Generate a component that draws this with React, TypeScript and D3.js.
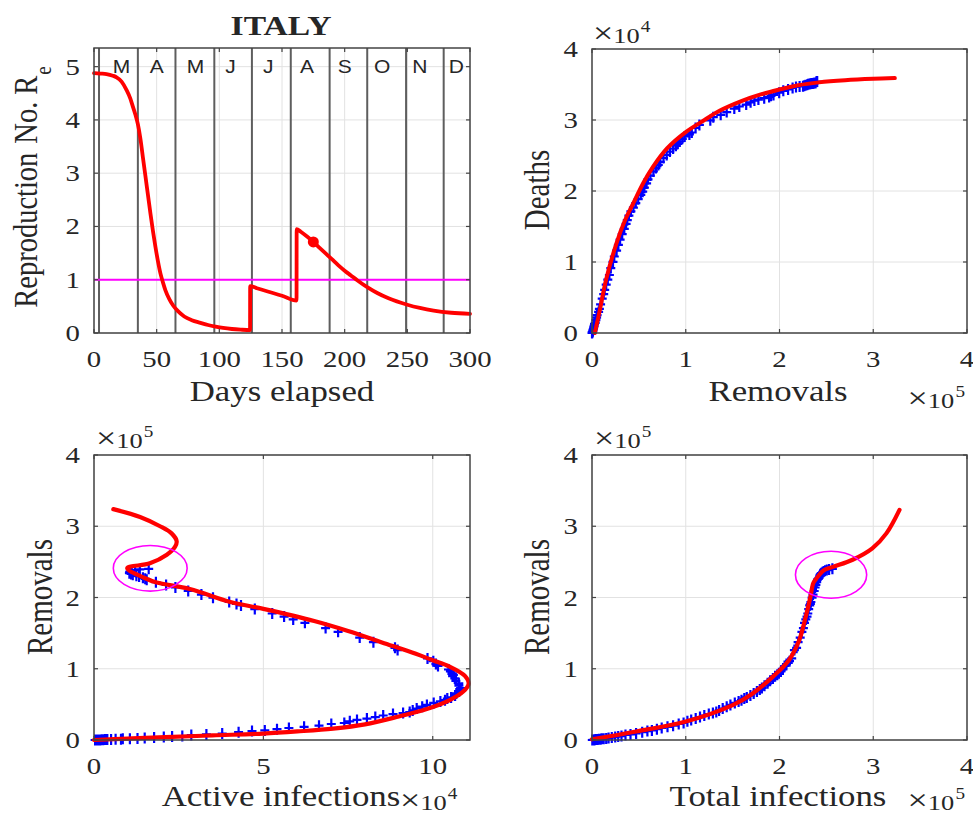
import React from 'react';
import * as d3 from 'd3';

const W = 973;
const H = 816;
const SERIF = '"Liberation Serif", "Times New Roman", serif';
const SANS = '"Liberation Sans", Arial, sans-serif';
const INK = '#262626';
const SX = 1.2; // the source picture is stretched horizontally

// observed data (thousands): day, total cases, removals (recovered + dead), deaths
const obsDay = [0, 1, 2, 3, 4, 5, 6, 7, 8, 9, 10, 11, 12, 13, 14, 15, 16, 17, 18, 19, 20, 21, 22, 23, 24, 25,
  26, 27, 28, 29, 30, 31, 32, 33, 34, 35, 36, 37, 38, 39, 40, 41, 42, 43, 44, 45, 46, 47, 48, 49, 50, 51, 52,
  53, 54, 55, 56, 57, 58, 59, 60, 61, 62, 63, 64, 65,
  66, 68, 70, 72, 74, 76, 78, 80, 82, 84, 86, 88, 90, 92, 94, 96, 98,
  102, 106, 110, 114, 118, 122, 126, 130, 134, 138, 142, 146, 150, 154, 158, 162, 166, 170, 174, 178];
const obsTotal = [0.32, 0.4, 0.66, 0.89, 1.13, 1.69, 2.04, 2.5, 3.09, 3.86, 4.64, 5.88, 7.38, 9.17, 10.15,
  12.46, 15.11, 17.66, 21.16, 24.75, 27.98, 31.51, 35.71, 41.04, 47.02, 53.58, 59.14, 63.93, 69.18, 74.39,
  80.54, 86.5, 92.47, 97.69, 101.74, 105.79, 110.57, 115.24, 119.83, 124.63, 128.95, 132.55, 135.59, 139.42,
  143.63, 147.58, 152.27, 156.36, 159.52, 162.49, 165.16, 168.94, 172.43, 175.93, 178.97, 181.23, 183.96,
  187.33, 189.97, 192.99, 195.35, 197.68, 199.41, 201.51, 203.59, 205.46,
  207.43, 210.72, 213.01, 215.86, 218.27, 219.81, 222.1, 223.89, 225.44, 226.7, 228.01, 229.33, 230.16,
  231.14, 232.25, 233.0, 233.52,
  234.8, 235.76, 236.99, 238.01, 238.83, 239.71, 240.58, 241.42, 242.15, 242.83, 243.0, 243.3, 243.9, 244.6,
  245.9, 247.1, 248.6, 250.5, 252.9, 256.4];
const obsRemoved = [0.01, 0.015, 0.06, 0.067, 0.08, 0.117, 0.2, 0.239, 0.38, 0.562, 0.72, 0.822, 0.99, 1.187,
  1.64, 1.872, 2.27, 2.705, 3.41, 4.144, 4.91, 5.444, 7.0, 7.845, 9.16, 10.897, 12.5, 13.509, 15.15, 16.865,
  18.53, 20.084, 22.41, 23.809, 26.21, 28.157, 30.0, 32.193, 34.44, 36.358, 37.7, 39.36, 41.52, 44.16, 46.75,
  49.304, 52.0, 54.11, 55.9, 58.197, 59.74, 62.334, 65.47, 68.154, 70.72, 72.991, 76.25, 79.628, 83.13,
  86.467, 89.5, 91.572, 93.6, 96.3, 98.93, 103.912,
  106.49, 110.54, 114.55, 126.23, 129.42, 137.33, 143.65, 151.82, 157.08, 164.45, 169.21, 173.21, 177.54,
  183.68, 188.86, 190.92, 193.62,
  199.68, 204.05, 209.17, 213.97, 217.55, 221.44, 225.02, 226.3, 227.71, 229.53, 230.47, 231.86, 232.94,
  234.15, 235.38, 236.5, 237.45, 238.42, 239.37, 240.26];
const obsDeaths = [0.011, 0.012, 0.017, 0.021, 0.029, 0.034, 0.052, 0.079, 0.107, 0.148, 0.197, 0.233, 0.366,
  0.463, 0.631, 0.827, 1.016, 1.266, 1.441, 1.809, 2.158, 2.503, 2.978, 3.405, 4.032, 4.825, 5.476, 6.077,
  6.82, 7.503, 8.165, 9.134, 10.023, 10.779, 11.591, 12.428, 13.155, 13.915, 14.681, 15.362, 15.887, 16.523,
  17.127, 17.669, 18.279, 18.849, 19.468, 19.899, 20.465, 21.067, 21.645, 22.17, 22.745, 23.227, 23.66,
  24.114, 24.648, 25.085, 25.549, 25.969, 26.384, 26.644, 26.977, 27.359, 27.682, 27.967,
  28.236, 28.884, 29.315, 29.958, 30.395, 30.739, 31.106, 31.61, 31.908, 32.169, 32.486, 32.735, 32.877,
  33.072, 33.229, 33.415, 33.53,
  33.846, 34.114, 34.301, 34.514, 34.657, 34.716, 34.767, 34.833, 34.899, 34.954, 35.028, 35.058, 35.097,
  35.123, 35.146, 35.181, 35.203, 35.231, 35.4, 35.418];

// model: effective reproduction number vs day
const reDay = [0, 5, 10, 15, 18, 22, 26, 29, 31, 33, 35, 37, 39, 41, 43, 45, 47, 49, 51, 53, 55, 57, 60, 63, 67,
  72, 78, 85, 91, 97, 103, 110, 117, 124.5, 124.6, 130, 140, 150, 161.6, 161.7, 165, 170, 175, 180, 185, 190,
  195, 200, 205, 210, 218, 226, 235, 250, 260, 271, 285, 300];
const reValue = [4.88, 4.87, 4.86, 4.83, 4.8, 4.72, 4.56, 4.4, 4.25, 4.1, 3.92, 3.65, 3.3, 2.95, 2.6, 2.25, 1.92,
  1.62, 1.35, 1.12, 0.95, 0.8, 0.64, 0.52, 0.41, 0.31, 0.24, 0.19, 0.15, 0.12, 0.095, 0.075, 0.063, 0.055, 0.88,
  0.84, 0.77, 0.7, 0.61, 1.95, 1.9, 1.81, 1.71, 1.6, 1.49, 1.38, 1.27, 1.17, 1.08, 0.99, 0.86, 0.75, 0.65, 0.53,
  0.47, 0.42, 0.38, 0.36];
const markedDay = 175;
const markedRe = 1.71;
const monthStart = [4, 35, 65, 96, 126, 157, 188, 218, 249, 279];
const monthName = ['M', 'A', 'M', 'J', 'J', 'A', 'S', 'O', 'N', 'D'];
const monthLabelDay = [22, 50, 81, 109, 139, 170, 200, 230, 260, 289];

// model fits: [x, y] in axis units
const fitDeaths: [number, number][] = [[0.03, 0], [0.08, 0.3], [0.15, 0.75], [0.26, 1.26], [0.35, 1.58],
  [0.43, 1.8], [0.55, 2.12], [0.65, 2.34], [0.8, 2.6], [1.0, 2.83], [1.2, 3.0], [1.36, 3.13], [1.6, 3.27],
  [1.8, 3.36], [2.0, 3.43], [2.2, 3.49], [2.42, 3.53], [2.7, 3.56], [3.0, 3.58], [3.23, 3.59]];
const fitActive: [number, number][] = [[0, 0], [1, 0.02], [2.1, 0.04], [3.5, 0.065], [5, 0.09], [6, 0.12],
  [7.06, 0.16], [8, 0.22], [9, 0.33], [9.8, 0.43], [10.5, 0.56], [10.9, 0.68], [11.06, 0.79], [10.95, 0.9],
  [10.5, 1.03], [10, 1.12], [9.5, 1.21], [8.5, 1.37], [7.5, 1.53], [6.5, 1.67], [5, 1.84], [4, 1.94],
  [2.83, 2.12], [1.85, 2.21], [1.51, 2.27], [0.98, 2.41], [1.65, 2.48], [2.15, 2.6], [2.39, 2.71],
  [2.44, 2.79], [2.29, 2.9], [1.95, 3.0], [1.36, 3.13], [0.57, 3.24]];
const fitTotal: [number, number][] = [[0, 0.01], [0.47, 0.12], [1.0, 0.26], [1.5, 0.49], [1.71, 0.65],
  [1.93, 0.89], [2.1, 1.12], [2.21, 1.4], [2.28, 1.73], [2.33, 2.01], [2.36, 2.2], [2.39, 2.26], [2.47, 2.38],
  [2.57, 2.43], [2.78, 2.53], [2.99, 2.69], [3.14, 2.9], [3.28, 3.23]];

// highlighted ellipses: cx, cy, rx, ry in axis units
const ringActive = [1.66, 2.41, 1.09, 0.32];
const ringTotal = [2.55, 2.32, 0.38, 0.33];

type Box = { l: number; r: number; t: number; b: number };
type Scale = d3.ScaleLinear<number, number>;

function Txt({ x, y, size, anchor = 'middle', rot = false, weight = 'normal', family = SERIF, children }: any) {
  return (
    <text
      transform={`translate(${x},${y}) scale(${SX},1)${rot ? ' rotate(-90)' : ''}`}
      fontSize={size} textAnchor={anchor} fontFamily={family} fontWeight={weight} fill={INK}
    >{children}</text>
  );
}

function Exp({ x, y, p, anchor = 'start' }: any) {
  return (
    <text transform={`translate(${x},${y}) scale(${SX},1)`} textAnchor={anchor} fontFamily={SERIF} fill={INK}>
      <tspan fontSize={30}>×</tspan>
      <tspan fontSize={22}>10</tspan>
      <tspan fontSize={16} dx={1} dy={-11}>{p}</tspan>
    </text>
  );
}

function Axes({ box, xs, ys, xTicks, yTicks, children }: { box: Box; xs: Scale; ys: Scale; xTicks: number[]; yTicks: number[]; children?: any }) {
  const fmt = (v: number) => String(v);
  return (
    <g>
      <rect x={box.l} y={box.t} width={box.r - box.l} height={box.b - box.t} fill="#fff" />
      {xTicks.map(v => <line key={'gx' + v} x1={xs(v)} x2={xs(v)} y1={box.t} y2={box.b} stroke="#e2e2e2" strokeWidth={1} />)}
      {yTicks.map(v => <line key={'gy' + v} x1={box.l} x2={box.r} y1={ys(v)} y2={ys(v)} stroke="#e2e2e2" strokeWidth={1} />)}
      {children}
      <rect x={box.l} y={box.t} width={box.r - box.l} height={box.b - box.t} fill="none" stroke="#444" strokeWidth={1.5} />
      {xTicks.map(v => (
        <g key={'tx' + v}>
          <line x1={xs(v)} x2={xs(v)} y1={box.b} y2={box.b - 4} stroke="#444" strokeWidth={1.2} />
          <line x1={xs(v)} x2={xs(v)} y1={box.t} y2={box.t + 4} stroke="#444" strokeWidth={1.2} />
          <Txt x={xs(v)} y={box.b + 34} size={24}>{fmt(v)}</Txt>
        </g>
      ))}
      {yTicks.map(v => (
        <g key={'ty' + v}>
          <line x1={box.l} x2={box.l + 4} y1={ys(v)} y2={ys(v)} stroke="#444" strokeWidth={1.2} />
          <line x1={box.r} x2={box.r - 4} y1={ys(v)} y2={ys(v)} stroke="#444" strokeWidth={1.2} />
          <Txt x={box.l - 14} y={ys(v) + 8} size={24} anchor="end">{fmt(v)}</Txt>
        </g>
      ))}
    </g>
  );
}

const crosses = (pts: [number, number][]) =>
  pts.map(([x, y]) => `M${(x - 4.5).toFixed(1)},${y.toFixed(1)}H${(x + 4.5).toFixed(1)}M${x.toFixed(1)},${(y - 5.5).toFixed(1)}V${(y + 5.5).toFixed(1)}`).join('');

const fitPath = (xs: Scale, ys: Scale, pts: [number, number][]) =>
  d3.line<[number, number]>().x(d => xs(d[0])).y(d => ys(d[1])).curve(d3.curveCatmullRom.alpha(0.5))(pts) || '';

const ring = (xs: Scale, ys: Scale, e: number[]) => (
  <ellipse cx={xs(e[0])} cy={ys(e[1])} rx={xs(e[0] + e[2]) - xs(e[0])} ry={ys(e[1]) - ys(e[1] + e[3])}
    fill="none" stroke="#ff00ff" strokeWidth={1.6} />
);

export default function App() {
  const tl: Box = { l: 94, r: 470, t: 48, b: 333 };
  const tr: Box = { l: 592, r: 967, t: 49, b: 333 };
  const bl: Box = { l: 94, r: 470, t: 455, b: 740 };
  const br: Box = { l: 592, r: 967, t: 455, b: 740 };

  const xTL = d3.scaleLinear().domain([0, 300]).range([tl.l, tl.r]);
  const yTL = d3.scaleLinear().domain([0, 5.35]).range([tl.b, tl.t]);
  const xTR = d3.scaleLinear().domain([0, 4]).range([tr.l, tr.r]);
  const yTR = d3.scaleLinear().domain([0, 4]).range([tr.b, tr.t]);
  const xBL = d3.scaleLinear().domain([0, 11.1]).range([bl.l, bl.r]);
  const yBL = d3.scaleLinear().domain([0, 4]).range([bl.b, bl.t]);
  const xBR = d3.scaleLinear().domain([0, 4]).range([br.l, br.r]);
  const yBR = d3.scaleLinear().domain([0, 4]).range([br.b, br.t]);

  const reLine = d3.line<number>()
    .x((_, i) => xTL(reDay[i]))
    .y(d => yTL(d))
    .curve(d3.curveMonotoneX)(reValue) || '';

  const ptsTR = obsDay.map((_, i) => [xTR(obsRemoved[i] / 100), yTR(obsDeaths[i] / 10)] as [number, number]);
  const ptsBL = obsDay.map((_, i) => [xBL((obsTotal[i] - obsRemoved[i]) / 10), yBL(obsRemoved[i] / 100)] as [number, number]);
  const ptsBR = obsDay.map((_, i) => [xBR(obsTotal[i] / 100), yBR(obsRemoved[i] / 100)] as [number, number]);

  const red = { fill: 'none', stroke: '#ff0000', strokeWidth: 4, strokeLinejoin: 'round' as const, strokeLinecap: 'round' as const };
  const blue = { fill: 'none', stroke: '#0000ff', strokeWidth: 2.2 };

  return (
    <svg width={W} height={H} style={{ position: 'absolute', left: 0, top: 0, background: '#fff' }}>
      <rect width={W} height={H} fill="#fff" />

      {/* Re(t) */}
      <Axes box={tl} xs={xTL} ys={yTL} xTicks={d3.range(0, 301, 50)} yTicks={d3.range(0, 6)}>
        {monthStart.map(d => (
          <line key={'m' + d} x1={xTL(d)} x2={xTL(d)} y1={tl.t} y2={tl.b} stroke="#5e5e5e" strokeWidth={2} />
        ))}
        {monthName.map((m, i) => (
          <Txt key={'ml' + i} x={xTL(monthLabelDay[i])} y={yTL(5) + 6} size={17.5} family={SANS}>{m}</Txt>
        ))}
        <line x1={tl.l} x2={tl.r} y1={yTL(1)} y2={yTL(1)} stroke="#ff00ff" strokeWidth={2} />
        <path d={reLine} {...red} strokeWidth={3.8} />
        <circle cx={xTL(markedDay)} cy={yTL(markedRe)} r={5.5} fill="#ff0000" />
      </Axes>
      <Txt x={281} y={35} size={28} weight="bold">ITALY</Txt>
      <Txt x={282} y={401} size={29}>Days elapsed</Txt>
      <text transform={`translate(37,187) scale(${SX},1) rotate(-90)`} textAnchor="middle" fontFamily={SERIF} fontSize={28.5} fill={INK}>
        <tspan>Reproduction</tspan>
        <tspan dx={9}>No.</tspan>
        <tspan dx={7}>R</tspan>
        <tspan fontSize={19} dx={1} dy={12}>e</tspan>
      </text>

      {/* deaths vs removals */}
      <Axes box={tr} xs={xTR} ys={yTR} xTicks={d3.range(0, 5)} yTicks={d3.range(0, 5)}>
        <path d={crosses(ptsTR)} {...blue} />
        <path d={fitPath(xTR, yTR, fitDeaths)} {...red} />
      </Axes>
      <Exp x={593} y={43} p="4" />
      <Exp x={965} y={408} p="5" anchor="end" />
      <Txt x={778} y={401} size={29}>Removals</Txt>
      <Txt x={549} y={190} size={29} rot>Deaths</Txt>

      {/* removals vs active infections */}
      <Axes box={bl} xs={xBL} ys={yBL} xTicks={[0, 5, 10]} yTicks={d3.range(0, 5)}>
        <path d={crosses(ptsBL)} {...blue} />
        <path d={fitPath(xBL, yBL, fitActive)} {...red} strokeWidth={4.2} />
        {ring(xBL, yBL, ringActive)}
      </Axes>
      <Exp x={96} y={448} p="5" />
      <Txt x={281} y={806} size={29}>Active infections</Txt>
      <Exp x={400} y={810} p="4" />
      <Txt x={52} y={597} size={29} rot>Removals</Txt>

      {/* removals vs total infections */}
      <Axes box={br} xs={xBR} ys={yBR} xTicks={d3.range(0, 5)} yTicks={d3.range(0, 5)}>
        <path d={crosses(ptsBR)} {...blue} />
        <path d={fitPath(xBR, yBR, fitTotal)} {...red} strokeWidth={4.2} />
        {ring(xBR, yBR, ringTotal)}
      </Axes>
      <Exp x={594} y={448} p="5" />
      <Txt x={778} y={806} size={29}>Total infections</Txt>
      <Exp x={965} y={810} p="5" anchor="end" />
      <Txt x={549} y={597} size={29} rot>Removals</Txt>
    </svg>
  );
}
